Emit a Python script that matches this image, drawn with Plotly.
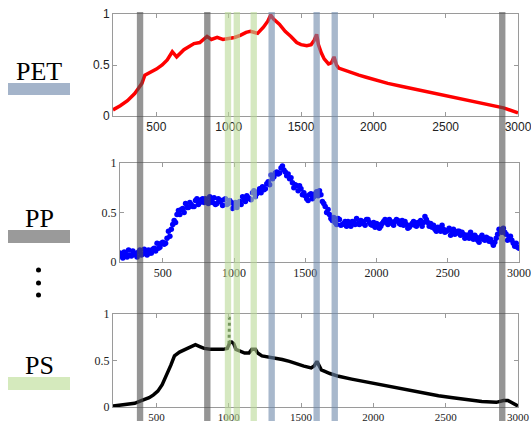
import numpy as np
import plotly.graph_objects as go

# ---------------- data ----------------
x_ticks = [500, 1000, 1500, 2000, 2500, 3000]
y_ticks = [0, 0.5, 1]
y_ticktext = ["0", "0.5", "1"]

# PET (red line)
pet_wn = [200, 250, 300, 350, 380, 400, 420, 450, 500, 540, 575, 610, 640, 690, 730, 760, 800,
          850, 880, 920, 960, 1000, 1040, 1080, 1120, 1150, 1200, 1240, 1270, 1290, 1310, 1350,
          1390, 1430, 1470, 1500, 1540, 1570, 1590, 1608, 1620, 1640, 1660, 1690, 1710, 1728,
          1745, 1760, 1800, 1850, 1900, 1950, 2000, 2100, 2200, 2300, 2400, 2500, 2600, 2700,
          2800, 2900, 3000]
pet_abs = [0.06, 0.10, 0.15, 0.22, 0.28, 0.32, 0.40, 0.42, 0.46, 0.50, 0.55, 0.63, 0.58, 0.65,
           0.69, 0.71, 0.72, 0.78, 0.75, 0.77, 0.75, 0.76, 0.77, 0.79, 0.82, 0.83, 0.81, 0.87,
           0.93, 0.99, 0.95, 0.90, 0.83, 0.78, 0.72, 0.70, 0.69, 0.70, 0.74, 0.80, 0.70, 0.62,
           0.56, 0.51, 0.52, 0.58, 0.50, 0.47, 0.45, 0.42, 0.40, 0.38, 0.36, 0.32, 0.29, 0.26,
           0.23, 0.20, 0.17, 0.14, 0.11, 0.08, 0.03]

# PP (blue scatter), two interleaved sample sets read from the point cloud
pp_wn_a = list(range(200, 3001, 20))
pp_abs_a = [0.09, 0.04, 0.08, 0.12, 0.06, 0.09, 0.05, 0.12, 0.08, 0.11,
            0.12, 0.09, 0.14, 0.19, 0.15, 0.20, 0.19, 0.31, 0.33, 0.42,
            0.48, 0.48, 0.54, 0.59, 0.55, 0.58, 0.56, 0.64, 0.60, 0.64,
            0.64, 0.59, 0.63, 0.65, 0.59, 0.61, 0.57, 0.64, 0.59, 0.60,
            0.58, 0.55, 0.61, 0.66, 0.61, 0.65, 0.63, 0.72, 0.69, 0.74,
            0.76, 0.74, 0.81, 0.88, 0.86, 0.91, 0.90, 0.97, 0.91, 0.89,
            0.85, 0.75, 0.77, 0.77, 0.68, 0.67, 0.62, 0.69, 0.66, 0.71,
            0.72, 0.61, 0.56, 0.53, 0.44, 0.45, 0.38, 0.43, 0.38, 0.41,
            0.41, 0.36, 0.40, 0.44, 0.38, 0.41, 0.37, 0.43, 0.38, 0.40,
            0.39, 0.34, 0.39, 0.43, 0.38, 0.41, 0.37, 0.43, 0.39, 0.42,
            0.41, 0.34, 0.37, 0.41, 0.36, 0.39, 0.36, 0.46, 0.40, 0.39,
            0.37, 0.31, 0.34, 0.37, 0.30, 0.32, 0.27, 0.33, 0.29, 0.31,
            0.30, 0.24, 0.27, 0.30, 0.23, 0.25, 0.20, 0.27, 0.22, 0.24,
            0.23, 0.17, 0.24, 0.33, 0.30, 0.30, 0.22, 0.26, 0.19, 0.19,
            0.14]
pp_wn_b = list(range(210, 2991, 20))
pp_abs_b = [0.06, 0.10, 0.05, 0.07, 0.11, 0.07, 0.10, 0.07, 0.13, 0.07,
            0.09, 0.13, 0.11, 0.14, 0.19, 0.18, 0.24, 0.26, 0.38, 0.40,
            0.52, 0.53, 0.50, 0.55, 0.60, 0.56, 0.62, 0.58, 0.63, 0.60,
            0.61, 0.66, 0.60, 0.58, 0.64, 0.62, 0.63, 0.58, 0.62, 0.54,
            0.60, 0.59, 0.58, 0.63, 0.67, 0.64, 0.70, 0.66, 0.71, 0.70,
            0.73, 0.79, 0.78, 0.84, 0.90, 0.89, 0.95, 0.93, 0.87, 0.84,
            0.80, 0.78, 0.72, 0.74, 0.70, 0.64, 0.68, 0.64, 0.69, 0.67,
            0.68, 0.59, 0.50, 0.48, 0.42, 0.40, 0.44, 0.37, 0.39, 0.36,
            0.38, 0.41, 0.38, 0.39, 0.42, 0.39, 0.43, 0.40, 0.37, 0.35,
            0.38, 0.36, 0.41, 0.40, 0.43, 0.39, 0.41, 0.42, 0.38, 0.37,
            0.38, 0.35, 0.39, 0.37, 0.40, 0.42, 0.40, 0.43, 0.36, 0.35,
            0.33, 0.35, 0.31, 0.33, 0.31, 0.34, 0.30, 0.28, 0.31, 0.27,
            0.28, 0.27, 0.24, 0.26, 0.27, 0.22, 0.25, 0.23, 0.25, 0.21,
            0.20, 0.20, 0.28, 0.31, 0.34, 0.28, 0.24, 0.22, 0.16, 0.15]

# PS (black line) + dotted spike
ps_wn = [200, 250, 300, 350, 400, 450, 480, 510, 540, 570, 600, 625, 660, 700, 740, 770, 800,
         830, 870, 920, 960, 990, 1000, 1010, 1020, 1035, 1050, 1080, 1110, 1140, 1160, 1185,
         1200, 1230, 1270, 1320, 1370, 1420, 1470, 1520, 1570, 1590, 1610, 1625, 1640, 1700,
         1760, 1850, 1950, 2050, 2150, 2250, 2350, 2450, 2550, 2650, 2750, 2850, 2900, 2930,
         2960, 3000]
ps_abs = [0.01, 0.02, 0.03, 0.04, 0.07, 0.10, 0.13, 0.17, 0.24, 0.34, 0.45, 0.55, 0.59, 0.62,
          0.65, 0.67, 0.65, 0.63, 0.62, 0.62, 0.62, 0.63, 0.68, 0.70, 0.70, 0.68, 0.62, 0.60,
          0.58, 0.58, 0.62, 0.62, 0.58, 0.55, 0.54, 0.53, 0.51, 0.49, 0.46, 0.44, 0.42, 0.44,
          0.49, 0.44, 0.40, 0.36, 0.33, 0.30, 0.27, 0.24, 0.21, 0.18, 0.15, 0.12, 0.10, 0.08,
          0.06, 0.05, 0.07, 0.07, 0.04, 0.01]
ps_spike_wn = [1002, 1004, 1003, 1005, 1004]
ps_spike_abs = [0.68, 0.76, 0.84, 0.92, 0.99]

# marker bands (wavenumbers)
band_gray = [387, 852, 2891]
band_green = [995, 1056, 1173]
band_blue = [1297, 1608, 1733]

labels = ["PET", "PP", "PS"]

# ---------------- figure ----------------
W, H = 531, 423


def py(px):  # pixel y (from top) -> paper y
    return (H - px) / H


def pxx(px):
    return px / W


fig = go.Figure()
fig.add_trace(go.Scatter(x=pet_wn, y=pet_abs, mode="lines",
                         line=dict(color="#ff0000", width=3.5), xaxis="x", yaxis="y",
                         showlegend=False))
fig.add_trace(go.Scatter(x=pp_wn_a + pp_wn_b, y=pp_abs_a + pp_abs_b, mode="markers",
                         marker=dict(color="#0000ff", size=5.5), xaxis="x2", yaxis="y2",
                         showlegend=False))
fig.add_trace(go.Scatter(x=ps_wn, y=ps_abs, mode="lines",
                         line=dict(color="#000000", width=3.5), xaxis="x3", yaxis="y3",
                         showlegend=False))
fig.add_trace(go.Scatter(x=ps_spike_wn, y=ps_spike_abs, mode="lines",
                         line=dict(color="#0f3008", width=3, dash="dot"), xaxis="x3", yaxis="y3",
                         showlegend=False))

axis_common = dict(range=[200, 3000], showline=True, mirror="ticks", linecolor="#9a9a9a",
                   linewidth=1, ticks="inside", ticklen=4, tickcolor="#9a9a9a",
                   showgrid=False, zeroline=False, tickvals=x_ticks, automargin=False,
                   ticklabeloverflow="allow")
yaxis_common = dict(range=[0, 1], showline=True, mirror="ticks", linecolor="#9a9a9a",
                    linewidth=1, ticks="inside", ticklen=4, tickcolor="#9a9a9a",
                    showgrid=False, zeroline=False, tickvals=y_ticks, ticktext=y_ticktext,
                    automargin=False, ticklabeloverflow="allow")

sans = dict(family="Liberation Sans, Arial", size=12, color="#222")
serif = dict(family="Liberation Serif, Times New Roman", size=12, color="#222")
serif_small = dict(family="Liberation Serif, Times New Roman", size=11, color="#222")

fig.update_layout(
    width=W, height=H, margin=dict(l=0, r=0, t=0, b=0, pad=0),
    paper_bgcolor="white", plot_bgcolor="white",
    xaxis=dict(axis_common, domain=[pxx(113), pxx(518)], anchor="y", tickfont=sans),
    yaxis=dict(yaxis_common, domain=[py(116), py(14)], anchor="x", tickfont=sans),
    xaxis2=dict(axis_common, domain=[pxx(120), pxx(519)], anchor="y2", tickfont=serif),
    yaxis2=dict(yaxis_common, domain=[py(262), py(163)], anchor="x2", tickfont=serif),
    xaxis3=dict(axis_common, domain=[pxx(113), pxx(518)], anchor="y3", tickfont=serif_small),
    yaxis3=dict(yaxis_common, domain=[py(407), py(314)], anchor="x3", tickfont=serif),
)

shapes = []
band_half = 22
for centers, col in [(band_gray, "#4f4f4f"), (band_green, "#b9d996"), (band_blue, "#6e89aa")]:
    for c in centers:
        shapes.append(dict(type="rect", xref="x", yref="paper", x0=c - band_half, x1=c + band_half,
                           y0=py(421), y1=py(12), fillcolor=col, opacity=0.6, line_width=0,
                           layer="above"))

# left legend rectangles
rects = [(83, 95, "#a4b4ca"), (230, 243, "#9a9a9a"), (377, 390, "#d5eabd")]
for y0, y1, col in rects:
    shapes.append(dict(type="rect", xref="paper", yref="paper", x0=pxx(8), x1=pxx(70),
                       y0=py(y1), y1=py(y0), fillcolor=col, line_width=0))
# vertical dots
for yy in [270, 283, 295]:
    shapes.append(dict(type="circle", xref="paper", yref="paper", x0=pxx(36), x1=pxx(41),
                       y0=py(yy + 2.5), y1=py(yy - 2.5), fillcolor="black", line_width=0))
fig.update_layout(shapes=shapes)

label_y = [71, 218, 365]
ann = []
for t, yy in zip(labels, label_y):
    ann.append(dict(text=t, xref="paper", yref="paper", x=pxx(39), y=py(yy), showarrow=False,
                    xanchor="center", yanchor="middle",
                    font=dict(family="Liberation Serif, Times New Roman", size=26, color="black")))
fig.update_layout(annotations=ann)

fig.write_html("out.html", config={"displayModeBar": False},
               post_script="document.body.style.margin='0';document.body.style.overflow='hidden';")
